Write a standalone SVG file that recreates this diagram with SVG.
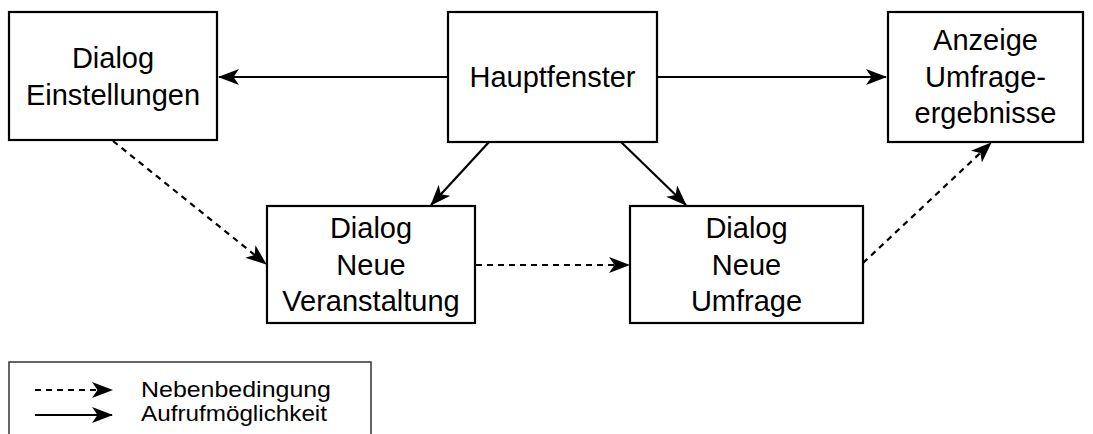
<svg xmlns="http://www.w3.org/2000/svg" width="1093" height="434" viewBox="0 0 1093 434">
<style>
.box{fill:#fff;stroke:#000;stroke-width:2.2}
.t{font-family:"Liberation Sans",Arial,sans-serif;font-size:29px;fill:#000;text-anchor:middle}
.lt{font-family:"Liberation Sans",Arial,sans-serif;font-size:22px;fill:#000}
.c{fill:none;stroke:#000;stroke-width:2.2}
.d{stroke-dasharray:6 5}
</style>
<defs>
<marker id="ah" viewBox="0 0 21 16" markerWidth="21" markerHeight="16" refX="20" refY="8" orient="auto" markerUnits="userSpaceOnUse">
<path d="M0,0 L21,8 L0,16 L5.5,8 Z" fill="#000"/>
</marker>
</defs>
<rect width="1093" height="434" fill="#fff"/>
<g id="connectors">
<line class="c" x1="448" y1="77" x2="219" y2="77" marker-end="url(#ah)"/>
<line class="c" x1="657" y1="77" x2="886" y2="77" marker-end="url(#ah)"/>
<line class="c" x1="489" y1="142" x2="431" y2="205" marker-end="url(#ah)"/>
<line class="c" x1="621" y1="142" x2="686" y2="205" marker-end="url(#ah)"/>
<line class="c d" x1="113" y1="141" x2="266" y2="264" marker-end="url(#ah)"/>
<line class="c d" x1="476" y1="265" x2="629" y2="265" marker-end="url(#ah)"/>
<line class="c d" x1="863" y1="263" x2="991" y2="143" marker-end="url(#ah)"/>
</g>
<g id="n-einstellungen">
<rect class="box" x="9" y="12" width="208" height="128"/>
<text class="t" x="113" y="68">Dialog</text>
<text class="t" x="113" y="105">Einstellungen</text>
</g>
<g id="n-hauptfenster">
<rect class="box" x="448" y="12" width="209" height="130"/>
<text class="t" x="552.5" y="87">Hauptfenster</text>
</g>
<g id="n-anzeige">
<rect class="box" x="888" y="12" width="195" height="130"/>
<text class="t" x="985.5" y="50">Anzeige</text>
<text class="t" x="985.5" y="86.5">Umfrage-</text>
<text class="t" x="985.5" y="123">ergebnisse</text>
</g>
<g id="n-veranstaltung">
<rect class="box" x="267" y="206" width="208" height="117"/>
<text class="t" x="371" y="238">Dialog</text>
<text class="t" x="371" y="274.5">Neue</text>
<text class="t" x="371" y="311">Veranstaltung</text>
</g>
<g id="n-umfrage">
<rect class="box" x="630" y="206" width="233" height="117"/>
<text class="t" x="746.5" y="238">Dialog</text>
<text class="t" x="746.5" y="274.5">Neue</text>
<text class="t" x="746.5" y="311">Umfrage</text>
</g>
<g id="legend">
<rect x="9" y="362" width="362" height="80" fill="#fff" stroke="#333" stroke-width="1.5"/>
<line class="c d" x1="35" y1="390" x2="112" y2="390" marker-end="url(#ah)"/>
<line class="c" x1="35" y1="415" x2="112" y2="415" marker-end="url(#ah)"/>
<text class="lt" x="141" y="397" textLength="190" lengthAdjust="spacingAndGlyphs">Nebenbedingung</text>
<text class="lt" x="141" y="421" textLength="186" lengthAdjust="spacingAndGlyphs">Aufrufmöglichkeit</text>
</g>
</svg>
